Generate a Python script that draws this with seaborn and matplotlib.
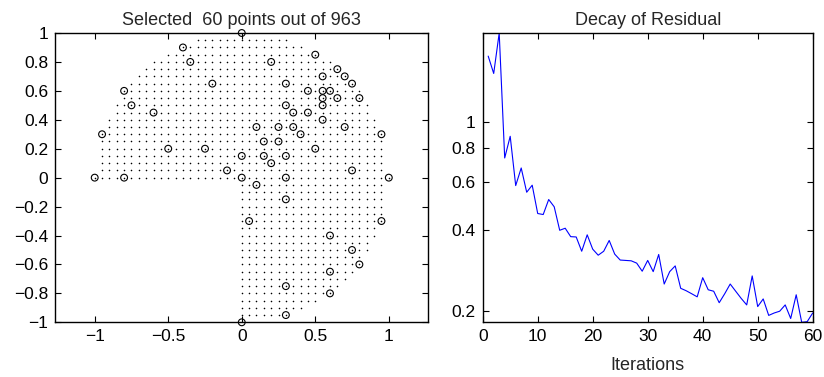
import numpy as np
import pandas as pd
import matplotlib
matplotlib.use("Agg")
import matplotlib.pyplot as plt
import seaborn as sns
from matplotlib.ticker import NullLocator, FixedLocator

# ---------------- data ----------------
# grid: spacing 0.05 on the unit disk, third quadrant removed (963 nodes)
grid_h = 0.05
grid_n = 20

sel_x = [-1.0, -0.8, -0.95, -0.8, -0.75, -0.6, -0.5, -0.25, -0.2, -0.4, -0.35, -0.1,
         0.0, 0.0, 0.0, 0.0,
         0.5, 0.2, 0.65, 0.55, 0.7, 0.3, 0.75, 0.45, 0.55, 0.6, 0.55, 0.65, 0.8,
         0.3, 0.55, 0.35, 0.45, 0.55, 0.1, 0.25, 0.35, 0.7, 0.4, 0.95, 0.15, 0.25,
         0.5, 0.15, 0.3, 0.2, 0.75,
         0.3, 1.0,
         0.1, 0.3, 0.05, 0.95, 0.6, 0.75, 0.8, 0.6, 0.3, 0.6, 0.3]
sel_y = [0.0, 0.0, 0.3, 0.6, 0.5, 0.45, 0.2, 0.2, 0.65, 0.9, 0.8, 0.05,
         1.0, 0.15, 0.0, -1.0,
         0.85, 0.8, 0.75, 0.7, 0.7, 0.65, 0.65, 0.6, 0.6, 0.6, 0.55, 0.55, 0.55,
         0.5, 0.5, 0.45, 0.45, 0.4, 0.35, 0.35, 0.35, 0.35, 0.3, 0.3, 0.25, 0.25,
         0.2, 0.15, 0.15, 0.1, 0.05,
         0.0, 0.0,
         -0.05, -0.15, -0.3, -0.3, -0.4, -0.5, -0.6, -0.65, -0.75, -0.8, -0.95]

iterations = list(range(1, 61))
residual = [1.75, 1.51, 2.13, 0.736, 0.885, 0.582, 0.676, 0.550, 0.584, 0.459,
            0.455, 0.517, 0.486, 0.398, 0.405, 0.377, 0.376, 0.333, 0.383, 0.339,
            0.322, 0.333, 0.365, 0.325, 0.309, 0.308, 0.307, 0.301, 0.281, 0.308,
            0.280, 0.324, 0.252, 0.280, 0.294, 0.243, 0.238, 0.232, 0.226, 0.266,
            0.240, 0.237, 0.215, 0.232, 0.252, 0.237, 0.223, 0.211, 0.270, 0.208,
            0.222, 0.193, 0.197, 0.200, 0.211, 0.188, 0.230, 0.182, 0.183, 0.197]

left_xticks = [-1, -0.5, 0, 0.5, 1]
left_xticklabels = ["\u22121", "\u22120.5", "0", "0.5", "1"]
left_yticks = [-1, -0.8, -0.6, -0.4, -0.2, 0, 0.2, 0.4, 0.6, 0.8, 1]
left_yticklabels = ["\u22121", "\u22120.8", "\u22120.6", "\u22120.4", "\u22120.2", "0",
                    "0.2", "0.4", "0.6", "0.8", "1"]
right_xticks = [0, 10, 20, 30, 40, 50, 60]
right_yticks = [0.2, 0.4, 0.6, 0.8, 1]
right_yticklabels = ["0.2", "0.4", "0.6", "0.8", "1"]

# grid nodes
ii, jj = np.meshgrid(np.arange(-grid_n, grid_n + 1), np.arange(-grid_n, grid_n + 1))
mask = (ii**2 + jj**2 <= grid_n**2) & ~((ii < 0) & (jj < 0))
grid_df = pd.DataFrame({"x": ii[mask] * grid_h, "y": jj[mask] * grid_h})
sel_df = pd.DataFrame({"x": sel_x, "y": sel_y})
res_df = pd.DataFrame({"it": iterations, "res": residual})

# ---------------- style ----------------
sns.set_style("ticks")
plt.rcParams["font.family"] = ["Liberation Sans", "DejaVu Sans"]
plt.rcParams.update({
    "xtick.direction": "in", "ytick.direction": "in",
    "xtick.top": True, "ytick.right": True,
    "xtick.major.size": 4, "ytick.major.size": 4,
    "xtick.major.width": 0.8, "ytick.major.width": 0.8,
    "axes.linewidth": 1.0, "axes.edgecolor": "black",
    "xtick.color": "black", "ytick.color": "black",
    "xtick.labelsize": 12.5, "ytick.labelsize": 12.5,
    "xtick.major.pad": 5, "ytick.major.pad": 5,
})

fig = plt.figure(figsize=(8.24, 3.77), dpi=100)
ax1 = fig.add_axes([55 / 824, 54.7 / 377, 373.5 / 824, 289.3 / 377])
ax2 = fig.add_axes([482.7 / 824, 54.7 / 377, 330 / 824, 289.3 / 377])

# ---------------- left panel ----------------
sns.scatterplot(data=grid_df, x="x", y="y", ax=ax1, color="black", s=1.3,
                marker="o", linewidth=0, legend=False, zorder=2)
sns.scatterplot(data=sel_df, x="x", y="y", ax=ax1, marker="o", s=24,
                facecolors="none", edgecolors="black", linewidth=0.8,
                legend=False, zorder=3, clip_on=False)
ax1.set_xlim(-1.27, 1.27)
ax1.set_ylim(-1, 1)
ax1.set_xticks(left_xticks)
ax1.set_xticklabels(left_xticklabels)
ax1.set_yticks(left_yticks)
ax1.set_yticklabels(left_yticklabels)
ax1.set_xlabel("")
ax1.set_ylabel("")
ax1.set_title("Selected  60 points out of 963", fontsize=13, pad=6)

# ---------------- right panel ----------------
sns.lineplot(data=res_df, x="it", y="res", ax=ax2, color=(0, 0, 1), linewidth=0.8)
ax2.set_yscale("log")
ax2.set_xlim(0, 60)
ax2.set_ylim(min(residual), max(residual))
ax2.set_xticks(right_xticks)
ax2.yaxis.set_major_locator(FixedLocator(right_yticks))
ax2.yaxis.set_minor_locator(NullLocator())
ax2.set_yticklabels(right_yticklabels)
ax2.set_xlabel("Iterations", fontsize=13, labelpad=9)
ax2.set_ylabel("")
ax2.set_title("Decay of Residual", fontsize=13, pad=6)

for ax in (ax1, ax2):
    ax.tick_params(which="both", direction="in", top=True, right=True)

fig.savefig("out.png", dpi=100)
